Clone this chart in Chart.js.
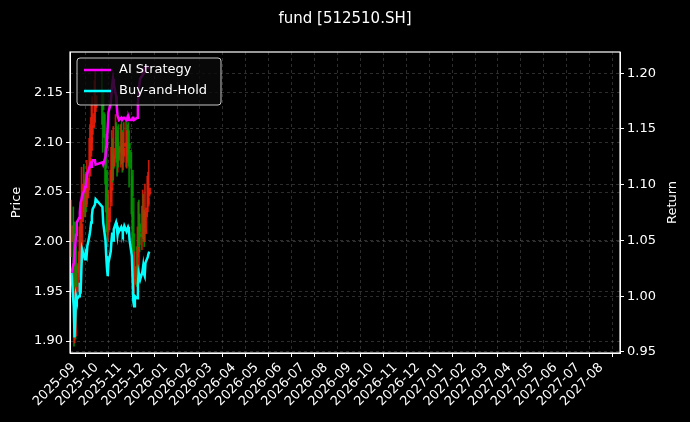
<!DOCTYPE html>
<html>
<head>
<meta charset="utf-8">
<script src="https://cdn.jsdelivr.net/npm/chart.js@4"></script>
<style>
  html, body { margin: 0; padding: 0; background: #000; }
  #wrap { width: 690px; height: 422px; }
</style>
</head>
<body>
<div id="wrap"><canvas id="chart" width="690" height="422"></canvas></div>
<script>
const dates = [
  '2025-08-29',
  '2025-09-01','2025-09-02','2025-09-03','2025-09-04','2025-09-05','2025-09-08','2025-09-09','2025-09-10','2025-09-11','2025-09-12',
  '2025-09-15','2025-09-16','2025-09-17','2025-09-18','2025-09-19','2025-09-22','2025-09-23','2025-09-24','2025-09-25','2025-09-26',
  '2025-09-29','2025-09-30',
  '2025-10-09','2025-10-10','2025-10-13','2025-10-14','2025-10-15','2025-10-16','2025-10-17','2025-10-20','2025-10-21','2025-10-22',
  '2025-10-23','2025-10-24','2025-10-27','2025-10-28','2025-10-29','2025-10-30','2025-10-31',
  '2025-11-03','2025-11-04','2025-11-05','2025-11-06','2025-11-07','2025-11-10','2025-11-11','2025-11-12','2025-11-13','2025-11-14',
  '2025-11-17','2025-11-18','2025-11-19','2025-11-20','2025-11-21','2025-11-24','2025-11-25','2025-11-26','2025-11-27','2025-11-28',
  '2025-12-01','2025-12-02','2025-12-03','2025-12-04','2025-12-05','2025-12-08','2025-12-09','2025-12-10'
];

const opens = [
  2.000, 2.020, 1.950, 1.905, 1.940, 1.978, 1.965, 1.980, 2.002, 1.982, 2.020, 2.060, 2.042, 2.038, 2.052, 2.044, 2.066, 2.086, 2.092, 2.108, 2.115, 2.131, 2.135,
  2.150, 2.130, 2.108, 2.072, 2.048, 2.022, 2.012, 2.036, 2.052, 2.076, 2.086, 2.076, 2.096, 2.103, 2.099, 2.082, 2.096,
  2.088, 2.099, 2.092, 2.086, 2.096, 2.101, 2.088, 2.096, 2.099, 2.092, 2.072, 2.044, 2.008, 1.962, 1.959, 1.977, 1.969, 1.997, 2.018, 2.008,
  2.003, 2.020, 2.030, 2.012, 2.008, 2.036, 2.046, 2.048
];
const closes = [
  2.016, 1.955, 1.902, 1.935, 1.975, 1.969, 1.975, 1.999, 1.979, 2.018, 2.058, 2.044, 2.040, 2.050, 2.046, 2.064, 2.084, 2.094, 2.105, 2.117, 2.129, 2.137, 2.147,
  2.133, 2.105, 2.074, 2.046, 2.024, 2.010, 2.034, 2.054, 2.074, 2.088, 2.074, 2.094, 2.105, 2.097, 2.084, 2.094, 2.090,
  2.097, 2.094, 2.088, 2.094, 2.099, 2.090, 2.094, 2.097, 2.094, 2.074, 2.046, 2.005, 1.965, 1.957, 1.975, 1.971, 1.995, 2.016, 2.010, 2.005,
  2.018, 2.028, 2.014, 2.010, 2.034, 2.044, 2.050, 2.054
];
const highs = [
  2.042, 2.035, 1.968, 1.950, 1.992, 1.995, 1.990, 2.015, 2.020, 2.035, 2.075, 2.078, 2.062, 2.068, 2.070, 2.082, 2.104, 2.118, 2.125, 2.138, 2.146, 2.162, 2.172,
  2.175, 2.150, 2.128, 2.092, 2.070, 2.040, 2.052, 2.072, 2.095, 2.112, 2.104, 2.116, 2.128, 2.120, 2.116, 2.112, 2.118,
  2.118, 2.120, 2.112, 2.110, 2.120, 2.124, 2.112, 2.118, 2.120, 2.112, 2.090, 2.066, 2.030, 1.985, 1.990, 1.995, 2.015, 2.040, 2.042, 2.028,
  2.036, 2.052, 2.048, 2.032, 2.058, 2.066, 2.070, 2.082
];
const lows = [
  1.985, 1.940, 1.895, 1.898, 1.925, 1.955, 1.950, 1.968, 1.962, 1.970, 2.005, 2.030, 2.025, 2.025, 2.030, 2.035, 2.052, 2.072, 2.080, 2.092, 2.100, 2.115, 2.120,
  2.118, 2.090, 2.058, 2.030, 2.010, 1.995, 2.000, 2.020, 2.040, 2.062, 2.060, 2.062, 2.084, 2.080, 2.066, 2.070, 2.075,
  2.075, 2.078, 2.070, 2.072, 2.080, 2.075, 2.074, 2.080, 2.076, 2.055, 2.028, 1.990, 1.950, 1.942, 1.948, 1.955, 1.958, 1.985, 1.995, 1.990,
  1.992, 2.005, 2.000, 1.995, 2.000, 2.025, 2.030, 2.038
];

const aiStrategy = [
  1.021, 1.030, 1.040, 1.045, 1.055, 1.066, 1.070, 1.075, 1.084, 1.086, 1.090, 1.095, 1.098, 1.100, 1.105, 1.110, 1.116, 1.118, 1.116, 1.120, 1.122, 1.122, 1.118,
  1.120, 1.118, 1.125, 1.134, 1.140, 1.152, 1.165, 1.173, 1.182, 1.190, 1.195, 1.190, 1.180, 1.170, 1.162, 1.160, 1.158,
  1.160, 1.158, 1.158, 1.160, 1.160, 1.158, 1.160, 1.158, 1.160, 1.158, 1.158, 1.160, 1.160, 1.158, 1.158, 1.160, 1.172, 1.185, 1.190, 1.195,
  1.198, 1.200, 1.202, 1.205, 1.205, 1.206, 1.205, 1.206
];
const buyAndHold = [
  1.021, 0.990, 0.963, 0.980, 1.000, 0.997, 1.000, 1.012, 1.002, 1.022, 1.042, 1.035, 1.033, 1.038, 1.036, 1.045, 1.055, 1.060, 1.066, 1.072, 1.078, 1.082, 1.087,
  1.080, 1.066, 1.050, 1.036, 1.025, 1.018, 1.030, 1.040, 1.050, 1.057, 1.050, 1.060, 1.066, 1.062, 1.055, 1.060, 1.058,
  1.062, 1.060, 1.057, 1.060, 1.063, 1.058, 1.060, 1.062, 1.060, 1.050, 1.036, 1.015, 0.995, 0.991, 1.000, 0.998, 1.010, 1.021, 1.018, 1.015,
  1.022, 1.027, 1.020, 1.018, 1.030, 1.035, 1.038, 1.040
];

const priceTicks = [1.90, 1.95, 2.00, 2.05, 2.10, 2.15];
const returnTicks = [0.95, 1.00, 1.05, 1.10, 1.15, 1.20];
const monthLabels = [
  '2025-09','2025-10','2025-11','2025-12','2026-01','2026-02','2026-03','2026-04','2026-05','2026-06','2026-07','2026-08',
  '2026-09','2026-10','2026-11','2026-12','2027-01','2027-02','2027-03','2027-04','2027-05','2027-06','2027-07','2027-08'
];

// days since 2025-09-01
const base = Date.UTC(2025, 8, 1);
function dayNum(s) {
  let p = s.split('-');
  return (Date.UTC(+p[0], +p[1] - 1, +(p[2] || 1)) - base) / 86400000;
}
const xs = dates.map(dayNum);
const monthDays = monthLabels.map(dayNum);

const upColor = 'rgba(230, 30, 10, 0.85)';
const downColor = 'rgba(0, 150, 0, 0.85)';
const candleColors = closes.map((c, i) => c >= opens[i] ? upColor : downColor);

const gridColor = 'rgba(128, 128, 128, 0.35)';
const font = { family: 'DejaVu Sans', size: 13 };

const overlay = {
  id: 'overlay',
  beforeDraw(chart) {
    let ctx = chart.ctx;
    ctx.save();
    ctx.fillStyle = '#000';
    ctx.fillRect(0, 0, chart.width, chart.height);
    ctx.restore();
  },
  afterDraw(chart) {
    let ctx = chart.ctx;
    let a = chart.chartArea;
    ctx.save();
    // axes frame
    ctx.strokeStyle = '#fff';
    ctx.lineWidth = 1.2;
    ctx.strokeRect(a.left, a.top, a.right - a.left, a.bottom - a.top);
    // title
    ctx.fillStyle = '#fff';
    ctx.font = '15px "DejaVu Sans"';
    ctx.textAlign = 'center';
    ctx.textBaseline = 'middle';
    ctx.fillText('fund [512510.SH]', 345, 19);
    // axis titles
    ctx.font = '13px "DejaVu Sans"';
    let midY = (a.top + a.bottom) / 2;
    [[17, 'Price'], [673, 'Return']].forEach(t => {
      ctx.save();
      ctx.translate(t[0], midY);
      ctx.rotate(-Math.PI / 2);
      ctx.fillText(t[1], 0, 0);
      ctx.restore();
    });
    // legend
    let lx = 77, ly = 58, lw = 144, lh = 47;
    ctx.fillStyle = 'rgba(10, 10, 10, 0.8)';
    ctx.strokeStyle = 'rgba(220, 220, 220, 0.9)';
    ctx.lineWidth = 1;
    ctx.beginPath();
    ctx.roundRect(lx, ly, lw, lh, 3);
    ctx.fill();
    ctx.stroke();
    let items = [chart.data.datasets[2], chart.data.datasets[3]];
    ctx.textAlign = 'left';
    items.forEach((d, i) => {
      let y = ly + 12 + i * 21;
      ctx.strokeStyle = d.borderColor;
      ctx.lineWidth = 2.5;
      ctx.beginPath();
      ctx.moveTo(lx + 7, y);
      ctx.lineTo(lx + 34, y);
      ctx.stroke();
      ctx.fillStyle = '#fff';
      ctx.fillText(d.label, lx + 42, y);
    });
    ctx.restore();
  }
};

new Chart(document.getElementById('chart'), {
  type: 'bar',
  data: {
    datasets: [
      {
        label: 'wick',
        data: xs.map((x, i) => ({ x: x, y: [lows[i], highs[i]] })),
        backgroundColor: candleColors,
        barThickness: 1,
        yAxisID: 'y',
        order: 2
      },
      {
        label: 'body',
        data: xs.map((x, i) => ({ x: x, y: [opens[i], closes[i]] })),
        backgroundColor: candleColors,
        barThickness: 1.6,
        yAxisID: 'y',
        order: 2
      },
      {
        type: 'line',
        label: 'AI Strategy',
        data: xs.map((x, i) => ({ x: x, y: aiStrategy[i] })),
        borderColor: '#ff00ff',
        borderWidth: 2.5,
        pointRadius: 0,
        yAxisID: 'y2',
        order: 0
      },
      {
        type: 'line',
        label: 'Buy-and-Hold',
        data: xs.map((x, i) => ({ x: x, y: buyAndHold[i] })),
        borderColor: '#00ffff',
        borderWidth: 2.5,
        pointRadius: 0,
        yAxisID: 'y2',
        order: 1
      }
    ]
  },
  options: {
    responsive: false,
    animation: false,
    layout: { padding: { top: 52, bottom: 0, left: 0, right: 0 } },
    plugins: { legend: { display: false }, tooltip: { enabled: false } },
    scales: {
      x: {
        type: 'linear',
        offset: false,
        min: -5,
        max: 724,
        afterBuildTicks: s => { s.ticks = monthDays.map(v => ({ value: v })); },
        afterFit: s => { s.height = 69; },
        ticks: {
          color: '#fff', font: font, minRotation: 45, maxRotation: 45, autoSkip: false,
          callback: (v, i) => monthLabels[i]
        },
        grid: { color: gridColor, tickColor: '#fff', tickLength: 4, drawTicks: true },
        border: { dash: [3, 3], color: '#fff' }
      },
      y: {
        position: 'left',
        min: 1.888,
        max: 2.191,
        afterBuildTicks: s => { s.ticks = priceTicks.map(v => ({ value: v })); },
        afterFit: s => { s.width = 70; },
        ticks: { color: '#fff', font: font, callback: v => v.toFixed(2) },
        grid: { color: gridColor, tickColor: '#fff', tickLength: 4 },
        border: { dash: [3, 3], color: '#fff' }
      },
      y2: {
        position: 'right',
        min: 0.949,
        max: 1.219,
        afterBuildTicks: s => { s.ticks = returnTicks.map(v => ({ value: v })); },
        afterFit: s => { s.width = 70; },
        ticks: { color: '#fff', font: font, callback: v => v.toFixed(2) },
        grid: { color: gridColor, tickColor: '#fff', tickLength: 4 },
        border: { dash: [3, 3], color: '#fff' }
      }
    }
  },
  plugins: [overlay]
});
</script>
</body>
</html>
